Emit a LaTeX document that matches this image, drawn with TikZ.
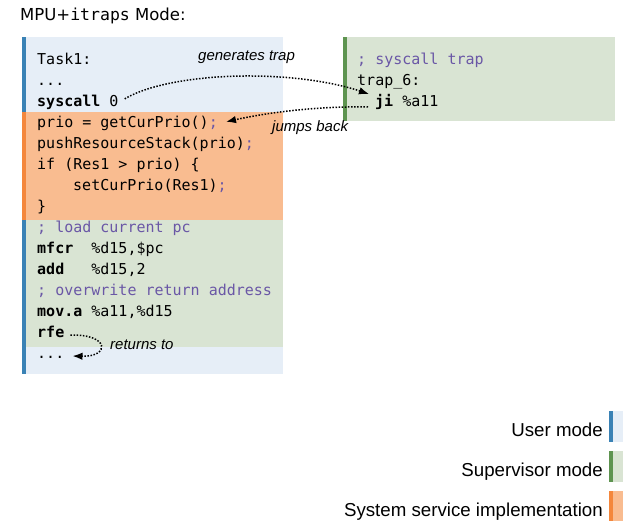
\documentclass[tikz,border=0pt]{standalone}
\usepackage{fontspec}
\setmainfont{Liberation Sans}
\newfontfamily\codefont{DejaVu Sans Mono}
\newfontfamily\titlefont{DejaVu Sans}
\usetikzlibrary{arrows.meta}

\definecolor{userbar}{HTML}{3A82B5}
\definecolor{userfill}{HTML}{E6EEF7}
\definecolor{supbar}{HTML}{5E9450}
\definecolor{supfill}{HTML}{D9E4D3}
\definecolor{svcbar}{HTML}{F4873C}
\definecolor{svcfill}{HTML}{F9BC90}
\definecolor{cmt}{HTML}{6A57A6}

\newcommand{\cmt}[1]{\textcolor{cmt}{#1}}

\tikzset{
  code/.style={anchor=base west, inner sep=0pt, font=\codefont\fontsize{15}{18}\selectfont},
  lbl/.style={anchor=base west, inner sep=0pt, font=\itshape\fontsize{15}{18}\selectfont},
  legendtext/.style={anchor=base east, inner sep=0pt, font=\fontsize{18.7}{22}\selectfont},
  flow/.style={line width=1.5pt, dash pattern=on 1.5pt off 1.6pt,
               -{Latex[length=10pt,width=7.5pt]}},
}

\begin{document}
\begin{tikzpicture}[x=1pt,y=-1pt]
\useasboundingbox (0,0) rectangle (623,521);

% title
\node[anchor=base west, inner sep=0pt, font=\fontsize{16.5}{20}\selectfont] (title) at (20,21)
  {\titlefont MPU+\codefont itraps\titlefont{} Mode:};

% left panel: task code with mode regions
\fill[userfill] (22,37)  rectangle (283,112);
\fill[svcfill]  (22,112) rectangle (283,220);
\fill[supfill]  (22,220) rectangle (283,347);
\fill[userfill] (22,347) rectangle (283,374);
\fill[userbar]  (22,37)  rectangle (26,112);
\fill[svcbar]   (22,112) rectangle (26,220);
\fill[userbar]  (22,220) rectangle (26,374);

% right panel: trap handler
\fill[supfill] (343,37) rectangle (615,121);
\fill[supbar]  (343,37) rectangle (347,121);

% code lines
\def\lh{20.93}
\node[code] (l0)  at (37,{65+0*\lh})  {Task1:};
\node[code] (l1)  at (37,{65+1*\lh})  {...};
\node[code] (l2)  at (37,{65+2*\lh})  {\textbf{syscall} 0};
\node[code] (l3)  at (37,{65+3*\lh})  {prio = getCurPrio()\cmt{;}};
\node[code] (l4)  at (37,{65+4*\lh})  {pushResourceStack(prio)\cmt{;}};
\node[code] (l5)  at (37,{65+5*\lh})  {if (Res1 > prio) \{};
\node[code] (l6)  at (73,{65+6*\lh})  {setCurPrio(Res1)\cmt{;}};
\node[code] (l7)  at (37,{65+7*\lh})  {\}};
\node[code] (l8)  at (37,{65+8*\lh})  {\cmt{; load current pc}};
\node[code] (l9)  at (37,{65+9*\lh})  {\textbf{mfcr}\ \ \%d15,\$pc};
\node[code] (l10) at (37,{65+10*\lh}) {\textbf{add}\ \ \ \%d15,2};
\node[code] (l11) at (37,{65+11*\lh}) {\cmt{; overwrite return address}};
\node[code] (l12) at (37,{65+12*\lh}) {\textbf{mov.a} \%a11,\%d15};
\node[code] (l13) at (37,{65+13*\lh}) {\textbf{rfe}};
\node[code] (l14) at (37,{65+14*\lh}) {...};

\node[code] (r0) at (357,65)  {\cmt{; syscall trap}};
\node[code] (r1) at (357,86)  {trap\_6:};
\node[code] (r2) at (375,107) {\textbf{ji} \%a11};

% control flow
\draw[flow] ([shift={(6,-8)}]l2.base east)
  .. controls (170,72) and (290,68) .. ([shift={(-6,-13)}]r2.base west);
\draw[flow] ([shift={(-7,0)}]r2.base west)
  .. controls (320,106) and (270,112) .. ([shift={(8,-6)}]l3.base east);
\draw[flow] ([shift={(6,-2)}]l13.base east)
  .. controls (110,334) and (110,357) .. ([shift={(8,-2)}]l14.base east);

\node[lbl] (gen) at (198,61)  {generates trap};
\node[lbl] (jmp) at (272,132) {jumps back};
\node[lbl] (ret) at (110,349) {returns to};

% legend
\node[legendtext] (lu) at (603,436) {User mode};
\node[legendtext] (ls) at (603,476) {Supervisor mode};
\node[legendtext] (lv) at (603,516) {System service implementation};
\fill[userfill] (609,411) rectangle (623,442);
\fill[userbar]  (609,411) rectangle (613,442);
\fill[supfill]  (609,451) rectangle (623,482);
\fill[supbar]   (609,451) rectangle (613,482);
\fill[svcfill]  (609,491) rectangle (623,521);
\fill[svcbar]   (609,491) rectangle (613,521);
\end{tikzpicture}
\end{document}
